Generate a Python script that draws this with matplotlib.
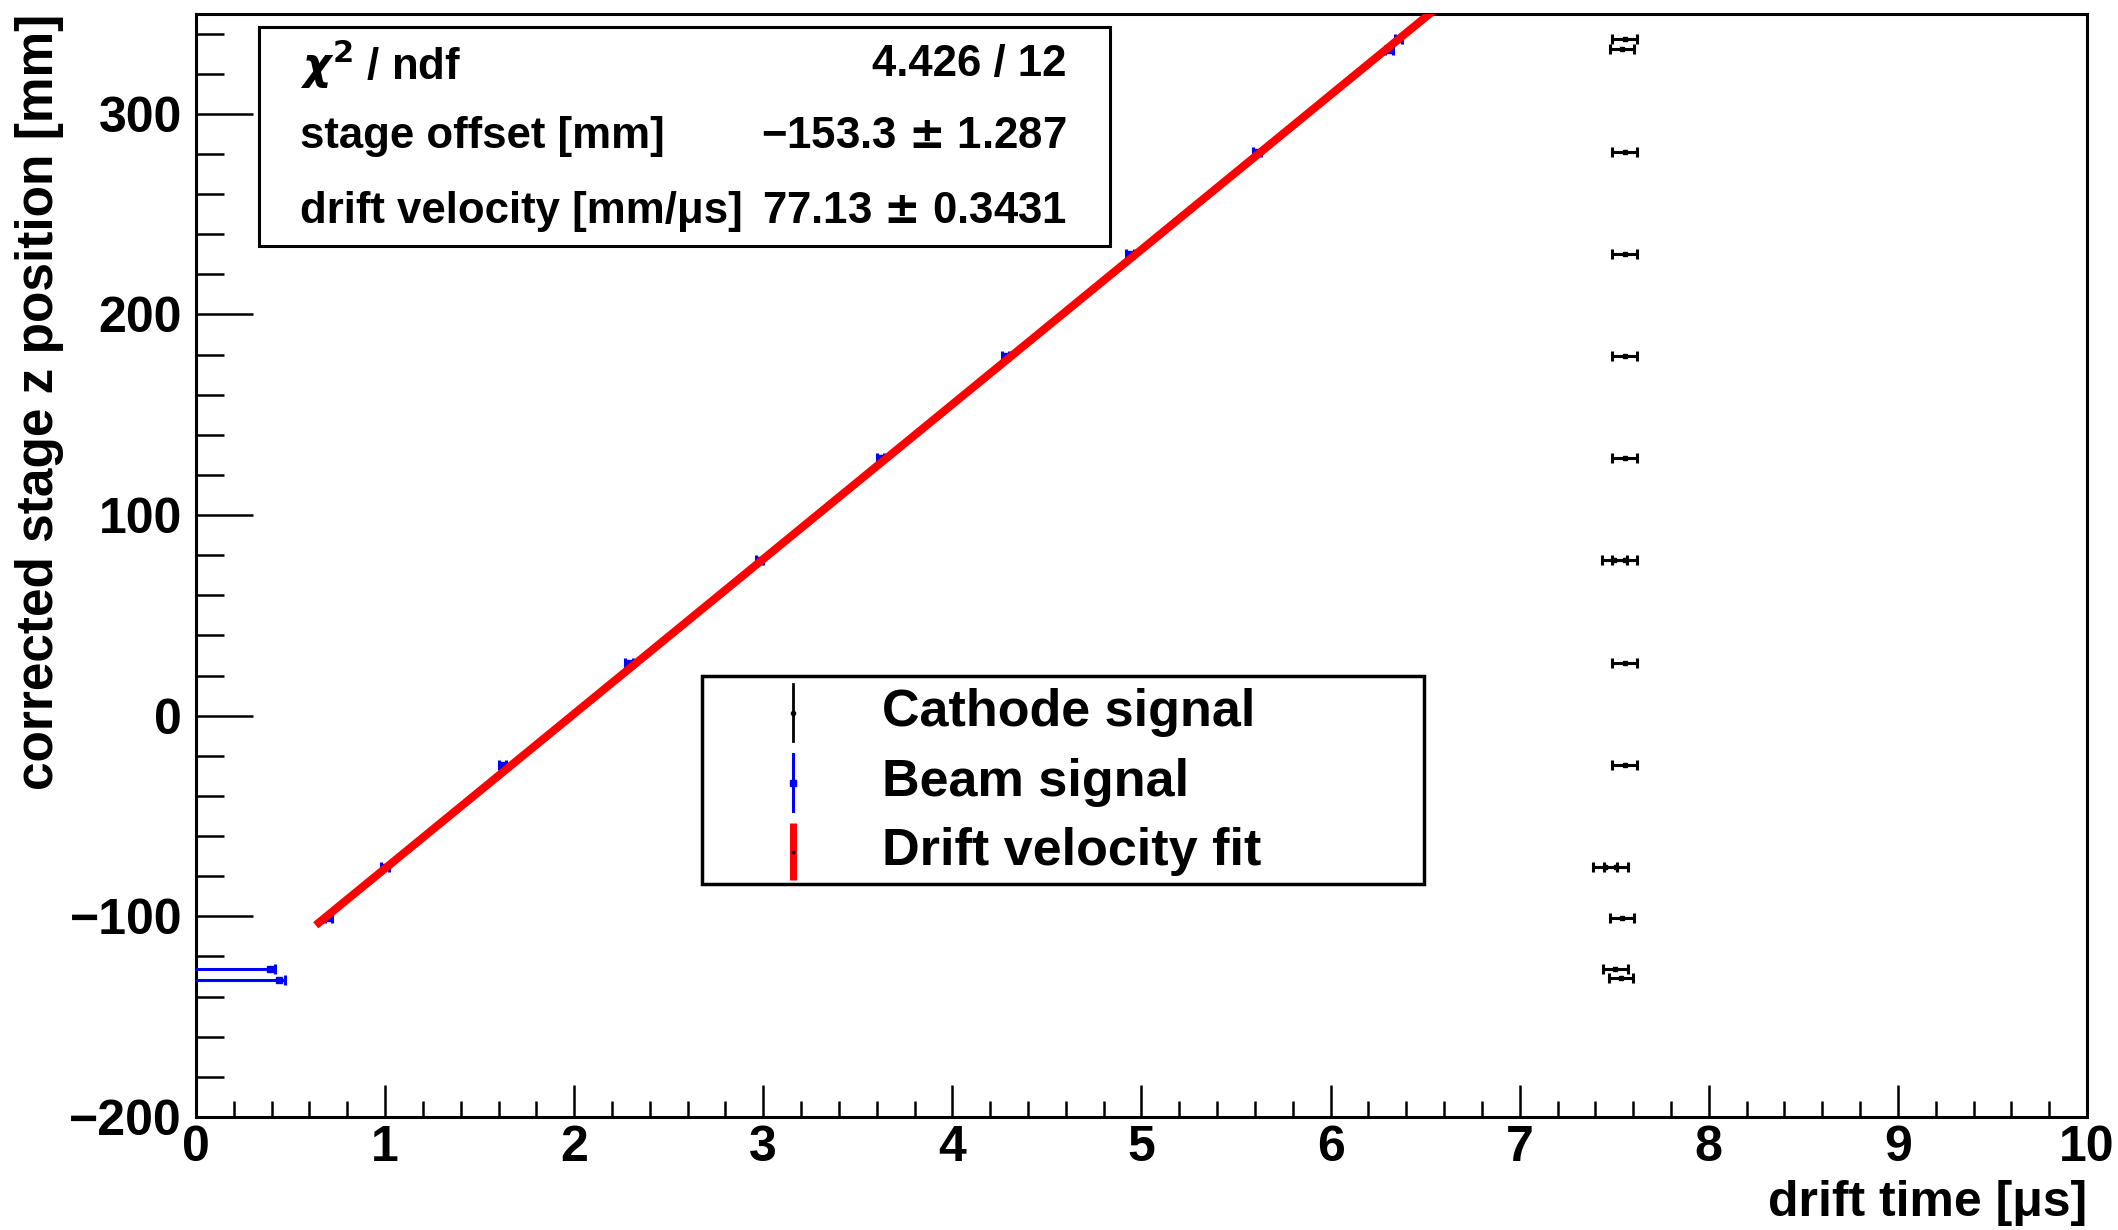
import numpy as np
import matplotlib
matplotlib.use("Agg")
import matplotlib.pyplot as plt
from matplotlib.ticker import MultipleLocator
from matplotlib.patches import Rectangle

plt.rcParams['font.family'] = ['Liberation Sans', 'DejaVu Sans']
plt.rcParams['font.weight'] = 'bold'

# stage z positions [mm] and the measured drift times [us]
cathode_t = [7.555, 7.54, 7.555, 7.555, 7.555, 7.555, 7.50, 7.555, 7.555, 7.555,
             7.45, 7.51, 7.54, 7.505, 7.535]
cathode_z = [337.3, 332.5, 281.0, 230.1, 179.2, 128.3, 77.4, 77.4, 26.5, -24.4,
             -75.3, -75.3, -100.7, -126.1, -130.9]
cathode_terr = [0.065] * len(cathode_t)

beam_t = [6.36, 6.31, 5.61, 4.94, 4.28, 3.62, 2.98, 2.29, 1.62, 1.00, 0.70, 0.39, 0.44]
beam_z = [337.3, 331.6, 281.0, 230.1, 179.2, 128.3, 77.4, 26.5, -24.4, -75.3, -100.7,
          -126.3, -131.5]
beam_terr_lo = [0.02] * 11 + [0.6, 0.6]
beam_terr_hi = [0.02] * 11 + [0.03, 0.03]

# linear fit result
fit_offset = -153.3
fit_offset_err = 1.287
fit_vdrift = 77.13
fit_vdrift_err = 0.3431
fit_chi2 = 4.426
fit_ndf = 12
fit_tmin = 0.65

fig = plt.figure(figsize=(21.18, 12.30), dpi=100)
ax = fig.add_axes([0.0925, 0.0919, 0.8929, 0.8971])

ax.errorbar(cathode_t, cathode_z, xerr=cathode_terr, fmt='s', color='black', ms=3.5,
            elinewidth=2.2, capsize=3.5, capthick=2.2, zorder=3)
ax.errorbar(beam_t, beam_z, xerr=[beam_terr_lo, beam_terr_hi], fmt='s', color='blue', ms=4.5,
            elinewidth=2.2, capsize=3.5, capthick=2.2, zorder=3)

tfit = np.linspace(fit_tmin, 8, 50)
ax.plot(tfit, fit_offset + fit_vdrift * tfit, color='red', lw=5.8, zorder=4)

ax.set_xlim(0, 10)
ax.set_ylim(-200, 350)

ax.xaxis.set_major_locator(MultipleLocator(1))
ax.xaxis.set_minor_locator(MultipleLocator(0.2))
ax.yaxis.set_major_locator(MultipleLocator(100))
ax.yaxis.set_minor_locator(MultipleLocator(20))
ax.tick_params(axis='both', which='both', direction='in', width=1.8, labelsize=36)
ax.tick_params(axis='y', which='major', length=41, pad=10)
ax.tick_params(axis='y', which='minor', length=20.5)
ax.tick_params(axis='x', which='major', length=23, pad=6)
ax.tick_params(axis='x', which='minor', length=11.5)
for s in ax.spines.values():
    s.set_linewidth(2.2)

ax.set_xlabel('drift time [μs]', fontsize=36, fontweight='bold', loc='right', labelpad=6)
ax.set_ylabel('corrected stage z position [mm]', fontsize=37, fontweight='bold', loc='top',
              labelpad=4)

# fit statistics box
bx0, by0, bx1, by1 = 0.0333, 0.789, 0.4836, 0.9878
ax.add_patch(Rectangle((bx0, by0), bx1 - bx0, by1 - by0, transform=ax.transAxes,
                       fill=True, fc='white', ec='black', lw=2.2, zorder=5))
rows = [
    (r'$\chi^{2}$ / ndf', '%.3f / %d' % (fit_chi2, fit_ndf)),
    ('stage offset [mm]', '%.1f $\\pm$ %.3f' % (fit_offset, fit_offset_err)),
    ('drift velocity [mm/μs]', '%.2f $\\pm$ %.4f' % (fit_vdrift, fit_vdrift_err)),
]
row_y = [0.954, 0.889, 0.821]
for (lab, val), yy in zip(rows, row_y):
    ax.text(0.055, yy, lab, transform=ax.transAxes, fontsize=31.5, fontweight='bold',
            va='center', ha='left', zorder=6)
    ax.text(0.4605, yy, val.replace('-', '−'), transform=ax.transAxes, fontsize=31.5,
            fontweight='bold', va='center', ha='right', zorder=6)

# legend
lx0, ly0, lx1, ly1 = 0.2676, 0.2107, 0.6495, 0.3994
ax.add_patch(Rectangle((lx0, ly0), lx1 - lx0, ly1 - ly0, transform=ax.transAxes,
                       fill=True, fc='white', ec='black', lw=2.5, zorder=5))
leg_y = [0.3663, 0.3029, 0.2403]
leg_labels = ['Cathode signal', 'Beam signal', 'Drift velocity fit']
sx = 0.3157
dy = 0.026
ax.plot([sx, sx], [leg_y[0] - dy, leg_y[0] + dy], transform=ax.transAxes, color='black',
        lw=2, zorder=6)
ax.plot([sx], [leg_y[0]], 'o', transform=ax.transAxes, color='black', ms=3, zorder=6)
ax.plot([sx, sx], [leg_y[1] - dy, leg_y[1] + dy], transform=ax.transAxes, color='blue',
        lw=2.2, zorder=6)
ax.plot([sx], [leg_y[1]], 's', transform=ax.transAxes, color='blue', ms=4, zorder=6)
ax.plot([sx, sx], [leg_y[2] - dy, leg_y[2] + dy], transform=ax.transAxes, color='red',
        lw=5, solid_capstyle='butt', zorder=6)
ax.plot([sx], [leg_y[2]], 's', transform=ax.transAxes, color='black', ms=2, zorder=7)
for lab, yy in zip(leg_labels, leg_y):
    ax.text(0.3630, yy, lab, transform=ax.transAxes, fontsize=37.5, fontweight='bold',
            va='center', ha='left', zorder=6)

fig.savefig('out.png', dpi=100)
